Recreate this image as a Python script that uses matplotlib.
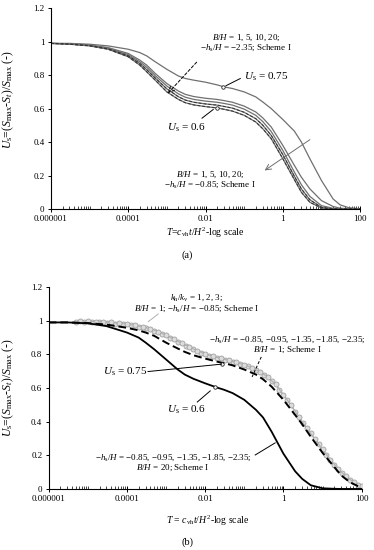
import matplotlib
matplotlib.use("Agg")
import matplotlib.pyplot as plt
from matplotlib.ticker import NullFormatter
import numpy as np

plt.rcParams['font.family'] = ['Liberation Serif', 'DejaVu Serif']
plt.rcParams['mathtext.fontset'] = 'custom'
plt.rcParams['mathtext.rm'] = 'Liberation Serif'
plt.rcParams['mathtext.it'] = 'Liberation Serif:italic'
plt.rcParams['axes.unicode_minus'] = True

# common time grid, log10(T)
logT = [-6, -5.52, -5, -4.52, -4, -3.7, -3.52, -3.3, -3, -2.7, -2.52, -2.3, -2, -1.7,
        -1.52, -1.3, -1, -0.7, -0.52, -0.3, 0, 0.3, 0.48, 0.7, 1, 1.3, 1.48, 1.7, 2]

# panel (a)
a_top = [0.99, 0.99, 0.985, 0.975, 0.955, 0.935, 0.915, 0.88, 0.835, 0.795, 0.78, 0.77, 0.758, 0.742,
         0.73, 0.72, 0.70, 0.67, 0.64, 0.60, 0.535, 0.465, 0.40, 0.30, 0.17, 0.06, 0.025, 0.008, 0.001]
a_b1 = [0.99, 0.988, 0.98, 0.965, 0.93, 0.89, 0.86, 0.81, 0.75, 0.705, 0.685, 0.672, 0.662, 0.655,
        0.648, 0.638, 0.615, 0.58, 0.545, 0.49, 0.38, 0.26, 0.19, 0.12, 0.05, 0.015, 0.005, 0.001, 0]
a_b2 = [0.99, 0.987, 0.978, 0.961, 0.923, 0.88, 0.847, 0.797, 0.735, 0.688, 0.668, 0.655, 0.645, 0.638,
        0.631, 0.621, 0.597, 0.56, 0.523, 0.463, 0.35, 0.22, 0.145, 0.075, 0.02, 0.004, 0.001, 0, 0]
a_b3 = [0.99, 0.986, 0.977, 0.958, 0.916, 0.87, 0.833, 0.783, 0.718, 0.671, 0.651, 0.638, 0.628, 0.621,
        0.613, 0.603, 0.578, 0.54, 0.501, 0.44, 0.325, 0.195, 0.12, 0.055, 0.01, 0.001, 0, 0, 0]
a_b4 = [0.99, 0.985, 0.975, 0.955, 0.91, 0.86, 0.82, 0.77, 0.70, 0.655, 0.635, 0.622, 0.612, 0.604,
        0.596, 0.585, 0.56, 0.52, 0.48, 0.42, 0.30, 0.175, 0.10, 0.04, 0.006, 0, 0, 0, 0]
a_mark_logT = [-1.55, -1.71]
a_mark_U = [0.73, 0.605]

# panel (b)
b_bh20 = [0.99, 0.99, 0.985, 0.968, 0.93, 0.9, 0.87, 0.83, 0.77, 0.71, 0.68, 0.655, 0.628, 0.603,
          0.59, 0.57, 0.53, 0.47, 0.425, 0.34, 0.21, 0.105, 0.06, 0.022, 0.004, 0.001, 0, 0, 0]
b_bh1 = [0.99, 0.99, 0.986, 0.977, 0.958, 0.943, 0.93, 0.91, 0.87, 0.835, 0.815, 0.795, 0.775, 0.757,
         0.748, 0.735, 0.71, 0.68, 0.652, 0.608, 0.53, 0.44, 0.385, 0.31, 0.215, 0.13, 0.08, 0.04, 0.006]
k1_logT = [-5.3, -5.1, -4.9, -4.7, -4.5, -4.3, -4.1, -3.9, -3.7, -3.5, -3.3, -3.1, -2.9, -2.7, -2.5,
           -2.3, -2.1, -1.9, -1.7, -1.5, -1.3, -1.1, -0.9, -0.7, -0.5, -0.3, -0.1, 0.1, 0.3, 0.5,
           0.7, 0.9, 1.1, 1.3, 1.5, 1.7, 1.9, 2.0]
k1_U = [0.995, 0.995, 0.993, 0.99, 0.987, 0.983, 0.978, 0.972, 0.965, 0.955, 0.94, 0.922, 0.9, 0.876,
        0.852, 0.83, 0.81, 0.793, 0.78, 0.768, 0.757, 0.744, 0.728, 0.708, 0.68, 0.643, 0.59, 0.528,
        0.46, 0.39, 0.33, 0.265, 0.2, 0.145, 0.095, 0.055, 0.025, 0.015]
k2_logT = [-5.2, -5.0, -4.8, -4.6, -4.4, -4.2, -4.0, -3.8, -3.6, -3.4, -3.2, -3.0, -2.8, -2.6, -2.4,
           -2.2, -2.0, -1.8, -1.6, -1.4, -1.2, -1.0, -0.8, -0.6, -0.4, -0.2, 0.0, 0.2, 0.4, 0.6,
           0.8, 1.0, 1.2, 1.4, 1.6, 1.8]
k2_U = [0.998, 0.997, 0.995, 0.993, 0.99, 0.985, 0.98, 0.973, 0.965, 0.952, 0.936, 0.914, 0.89, 0.866,
        0.843, 0.822, 0.803, 0.788, 0.776, 0.764, 0.752, 0.738, 0.72, 0.697, 0.665, 0.622, 0.56, 0.497,
        0.428, 0.36, 0.297, 0.235, 0.175, 0.12, 0.075, 0.04]
b_mark_logT = [-1.56, -1.74]
b_mark_U = [0.745, 0.605]

xt_major = [1e-6, 1e-4, 1e-2, 1, 100]
xt_labels = ["0.000001", "0.0001", "0.01", "1", "100"]
yt = [0, 0.2, 0.4, 0.6, 0.8, 1.0, 1.2]
yt_labels = ["0", "0.2", "0.4", "0.6", "0.8", "1", "1.2"]

T = 10 ** np.array(logT)
gray = '#707070'

fig = plt.figure(figsize=(3.74, 5.5), dpi=100)
ax1 = fig.add_axes([0.136, 0.62, 0.827, 0.365])
ax2 = fig.add_axes([0.130, 0.111, 0.837, 0.367])

def style(ax):
    ax.set_xscale('log')
    ax.set_xlim(1e-6, 100)
    ax.set_ylim(0, 1.2)
    ax.set_xticks(xt_major)
    ax.set_xticklabels(xt_labels)
    minors = []
    for d in range(-6, 2):
        for m in range(1, 10):
            v = m * 10.0 ** d
            if v not in xt_major:
                minors.append(v)
    ax.set_xticks(minors, minor=True)
    ax.xaxis.set_minor_formatter(NullFormatter())
    ax.set_yticks(yt)
    ax.set_yticklabels(yt_labels)
    ax.spines['top'].set_visible(False)
    ax.spines['right'].set_visible(False)
    ax.tick_params(axis='x', which='major', direction='inout', length=4, width=0.7, labelsize=6.5, pad=2)
    ax.tick_params(axis='x', which='minor', direction='in', length=2.2, width=0.5)
    ax.tick_params(axis='y', direction='out', length=2.5, width=0.7, labelsize=6.5, pad=2)
    for s in ['left', 'bottom']:
        ax.spines[s].set_linewidth(0.8)

# ---- panel (a)
style(ax1)
ax1.plot(T, a_top, color=gray, lw=0.9)
for ys in [a_b1, a_b2, a_b3, a_b4]:
    ax1.plot(T, ys, color=gray, lw=0.9)
ax1.plot(T, a_b3, color='#333333', lw=0.7, dashes=(3, 2))
ax1.plot(T, a_b4, color='#333333', lw=0.7, dashes=(3, 2))
ax1.plot(10 ** np.array(a_mark_logT), a_mark_U, 'o', ms=2.5, mfc='white', mec='#222222', mew=0.6)

fs = 6.5
ax1.text(10 ** -0.95, 0.994, "$B/H$ = 1, 5, 10, 20;\n−$h_\\mathrm{s}/H$ = −2.35; Scheme I",
         ha='center', va='center', fontsize=fs, linespacing=1.0)
ax1.annotate("", xy=(10 ** -3.02, 0.68), xytext=(10 ** -2.18, 0.89),
             arrowprops=dict(arrowstyle='->', color='black', lw=0.7, linestyle=(0, (3, 2))))
ax1.text(10 ** -1.0, 0.79, "$U_\\mathrm{s}$ = 0.75", ha='left', va='center', fontsize=8)
ax1.plot([10 ** -1.1, 10 ** -1.47], [0.78, 0.737], color='black', lw=0.7)
ax1.text(10 ** -2.99, 0.484, "$U_\\mathrm{s}$ = 0.6", ha='left', va='center', fontsize=8)
ax1.plot([10 ** -2.09, 10 ** -1.8], [0.543, 0.595], color='black', lw=0.7)
ax1.annotate("", xy=(10 ** -0.53, 0.221), xytext=(10 ** 0.76, 0.424),
             arrowprops=dict(arrowstyle='->', color=gray, lw=0.7))
ax1.text(10 ** -1.88, 0.173, "$B/H$ = 1, 5, 10, 20;\n−$h_\\mathrm{s}/H$ = −0.85; Scheme I",
         ha='center', va='center', fontsize=fs, linespacing=1.0)

# ---- panel (b)
style(ax2)
ax2.plot(10 ** np.array(k1_logT), k1_U, color='#b0b0b0', lw=0.8, marker='o', ms=3.6,
         mfc='#dcdcdc', mec='#a0a0a0', mew=0.6)
ax2.plot(10 ** np.array(k2_logT), k2_U, color='#b0b0b0', lw=0.8, marker='o', ms=3.6,
         mfc='#dcdcdc', mec='#a0a0a0', mew=0.6)
ax2.plot(T, b_bh1, color='black', lw=1.4, dashes=(4, 2))
ax2.plot(T, b_bh20, color='black', lw=1.3)
ax2.plot(10 ** np.array(b_mark_logT), b_mark_U, 'o', ms=2.5, mfc='white', mec='#222222', mew=0.6)

ax2.text(10 ** -2.23, 1.103, "$k_\\mathrm{h}/k_\\mathrm{v}$ = 1, 2, 3;\n$B/H$ = 1; −$h_\\mathrm{s}/H$ = −0.85; Scheme I",
         ha='center', va='center', fontsize=fs, linespacing=1.0)
ax2.plot([10 ** -3.2, 10 ** -3.45], [1.04, 0.995], color='#b0b0b0', lw=0.7)
ax2.text(10 ** 0.1, 0.857, "−$h_\\mathrm{s}/H$ = −0.85, −0.95, −1.35, −1.85, −2.35;\n$B/H$ = 1; Scheme I",
         ha='center', va='center', fontsize=fs, linespacing=1.0)
ax2.plot([10 ** -0.565, 10 ** -0.80], [0.785, 0.666], color='black', lw=0.7, dashes=(3, 2))
ax2.text(10 ** -3.48, 0.698, "$U_\\mathrm{s}$ = 0.75", ha='right', va='center', fontsize=8)
ax2.plot([10 ** -3.46, 10 ** -1.58], [0.698, 0.742], color='black', lw=0.7)
ax2.text(10 ** -2.97, 0.47, "$U_\\mathrm{s}$ = 0.6", ha='left', va='center', fontsize=8)
ax2.plot([10 ** -2.2, 10 ** -1.87], [0.517, 0.583], color='black', lw=0.7)
ax2.text(10 ** -2.82, 0.155, "−$h_\\mathrm{s}/H$ = −0.85, −0.95, −1.35, −1.85, −2.35;\n$B/H$ = 20; Scheme I",
         ha='center', va='center', fontsize=fs, linespacing=1.0)
ax2.plot([10 ** -0.72, 10 ** -0.21], [0.202, 0.274], color='black', lw=0.7)

# axis labels and captions
ylab = "$U_\\mathrm{s}$=($S_\\mathrm{max}$-$S_t$)/$S_\\mathrm{max}$ (-)"
fig.text(0.022, 1 - 100 / 550, ylab, rotation=90, ha='center', va='center', fontsize=8.5)
fig.text(0.022, 1 - 388 / 550, ylab, rotation=90, ha='center', va='center', fontsize=8.5)
fig.text(0.548, 1 - 233 / 550, "$T$=$c_\\mathrm{vh}t/H^2$-log scale", ha='center', va='center', fontsize=7)
fig.text(0.556, 1 - 521 / 550, "$T$ = $c_\\mathrm{vh}t/H^2$-log scale", ha='center', va='center', fontsize=7)
fig.text(0.5, 1 - 255 / 550, "(a)", ha='center', va='center', fontsize=7.5)
fig.text(0.5, 1 - 542 / 550, "(b)", ha='center', va='center', fontsize=7.5)

fig.savefig("out.png", dpi=100)
